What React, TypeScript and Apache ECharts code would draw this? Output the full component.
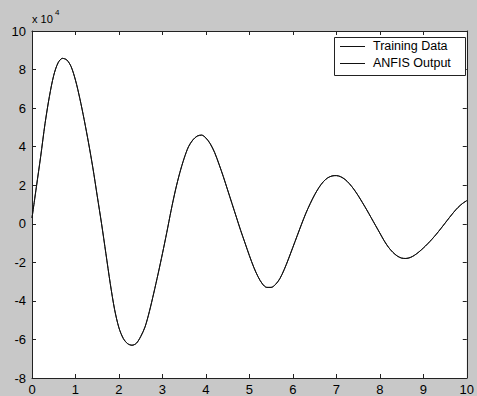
import React, { useEffect, useRef } from "react";
import * as echarts from "echarts";

const xValues = [
  0, 0.05, 0.1, 0.2, 0.3, 0.4, 0.5, 0.6, 0.7, 0.8, 0.9, 1.0, 1.1, 1.2, 1.3, 1.4, 1.5, 1.6, 1.7, 1.8, 1.9,
  2.0, 2.1, 2.2, 2.3, 2.4, 2.5, 2.6, 2.7, 2.8, 2.9, 3.0, 3.1, 3.2, 3.3, 3.4, 3.5, 3.6, 3.7, 3.8, 3.9,
  4.0, 4.1, 4.2, 4.3, 4.4, 4.5, 4.6, 4.7, 4.8, 4.9, 5.0, 5.1, 5.2, 5.3, 5.4, 5.5, 5.6, 5.7, 5.8, 5.9,
  6.0, 6.1, 6.2, 6.3, 6.4, 6.5, 6.6, 6.7, 6.8, 6.9, 7.0, 7.1, 7.2, 7.3, 7.4, 7.5, 7.6, 7.7, 7.8, 7.9,
  8.0, 8.1, 8.2, 8.3, 8.4, 8.5, 8.6, 8.7, 8.8, 8.9, 9.0, 9.1, 9.2, 9.3, 9.4, 9.5, 9.6, 9.7, 9.8, 9.9, 10.0,
];

// values in units of 10^4
const trainingData = [
  0.3, 1.1, 1.9, 3.5, 5.2, 6.6, 7.7, 8.35, 8.58, 8.5, 8.15, 7.45, 6.5, 5.4, 4.2, 2.9, 1.45, 0.0, -1.55, -3.1, -4.45,
  -5.4, -5.95, -6.22, -6.3, -6.2, -5.85, -5.35, -4.55, -3.6, -2.6, -1.55, -0.45, 0.7, 1.75, 2.65, 3.4, 4.0, 4.35, 4.55, 4.6,
  4.45, 4.15, 3.7, 3.1, 2.45, 1.75, 1.05, 0.35, -0.35, -1.0, -1.65, -2.25, -2.75, -3.12, -3.3, -3.3, -3.15, -2.85, -2.38, -1.82,
  -1.22, -0.62, -0.02, 0.55, 1.05, 1.5, 1.88, 2.18, 2.38, 2.48, 2.5, 2.44, 2.3, 2.08, 1.8, 1.47, 1.1, 0.72, 0.32, -0.08,
  -0.48, -0.88, -1.22, -1.48, -1.67, -1.78, -1.8, -1.75, -1.63, -1.46, -1.26, -1.04, -0.8, -0.54, -0.26, 0.03, 0.32, 0.6, 0.85, 1.05, 1.2,
];

const anfisOutput = [
  0.3, 1.1, 1.9, 3.5, 5.2, 6.6, 7.7, 8.35, 8.58, 8.5, 8.15, 7.45, 6.5, 5.4, 4.2, 2.9, 1.45, 0.0, -1.55, -3.1, -4.45,
  -5.4, -5.95, -6.22, -6.3, -6.2, -5.85, -5.35, -4.55, -3.6, -2.6, -1.55, -0.45, 0.7, 1.75, 2.65, 3.4, 4.0, 4.35, 4.55, 4.6,
  4.45, 4.15, 3.7, 3.1, 2.45, 1.75, 1.05, 0.35, -0.35, -1.0, -1.65, -2.25, -2.75, -3.12, -3.3, -3.3, -3.15, -2.85, -2.38, -1.82,
  -1.22, -0.62, -0.02, 0.55, 1.05, 1.5, 1.88, 2.18, 2.38, 2.48, 2.5, 2.44, 2.3, 2.08, 1.8, 1.47, 1.1, 0.72, 0.32, -0.08,
  -0.48, -0.88, -1.22, -1.48, -1.67, -1.78, -1.8, -1.75, -1.63, -1.46, -1.26, -1.04, -0.8, -0.54, -0.26, 0.03, 0.32, 0.6, 0.85, 1.05, 1.2,
];

const seriesNames = ["Training Data", "ANFIS Output"];
const xRange = { min: 0, max: 10, interval: 1 };
const yRange = { min: -8, max: 10, interval: 2 };

const FONT = "Arial, 'Liberation Sans', sans-serif";

export default function App() {
  const ref = useRef<HTMLDivElement>(null);

  useEffect(() => {
    if (!ref.current) return;
    const chart = echarts.init(ref.current, undefined, { renderer: "svg" });

    const tick = { show: true, inside: true, length: 4, lineStyle: { color: "#222", width: 1 } };
    const line = { show: true, onZero: false, lineStyle: { color: "#222", width: 1 } };

    const legendX = 334;
    const legendY = 37;
    const legendRows = [46, 63];

    chart.setOption({
      animation: false,
      backgroundColor: "#c8c8c8",
      textStyle: { fontFamily: FONT },
      grid: {
        left: 32,
        top: 31,
        width: 439,
        height: 348,
        show: true,
        backgroundColor: "#ffffff",
        borderWidth: 0,
      },
      xAxis: [
        {
          type: "value",
          position: "bottom",
          ...xRange,
          axisLine: line,
          axisTick: tick,
          splitLine: { show: false },
          axisLabel: { color: "#000", fontSize: 13, margin: 5, fontFamily: FONT },
        },
        {
          type: "value",
          position: "top",
          ...xRange,
          axisLine: line,
          axisTick: tick,
          splitLine: { show: false },
          axisLabel: { show: false },
        },
      ],
      yAxis: [
        {
          type: "value",
          position: "left",
          ...yRange,
          axisLine: line,
          axisTick: tick,
          splitLine: { show: false },
          axisLabel: { color: "#000", fontSize: 13, margin: 6, fontFamily: FONT },
        },
        {
          type: "value",
          position: "right",
          ...yRange,
          axisLine: line,
          axisTick: tick,
          splitLine: { show: false },
          axisLabel: { show: false },
        },
      ],
      graphic: [
        {
          type: "text",
          left: 32,
          top: 13,
          style: { text: "x 10", fontSize: 11, fill: "#000", fontFamily: FONT },
        },
        {
          type: "text",
          left: 55,
          top: 8,
          style: { text: "4", fontSize: 8, fill: "#000", fontFamily: FONT },
        },
        {
          type: "rect",
          shape: { x: legendX + 0.5, y: legendY + 0.5, width: 131, height: 38 },
          style: { fill: "#ffffff", stroke: "#222", lineWidth: 1 },
          z: 100,
        },
        ...seriesNames.flatMap((name, i) => [
          {
            type: "line",
            shape: { x1: 340, y1: legendRows[i] + 0.5, x2: 365, y2: legendRows[i] + 0.5 },
            style: { stroke: "#111", lineWidth: 1 },
            z: 101,
          },
          {
            type: "text",
            x: 373,
            y: legendRows[i],
            style: {
              text: name,
              fontSize: 12.5,
              fill: "#000",
              fontFamily: FONT,
              textVerticalAlign: "middle",
              verticalAlign: "middle",
            },
            z: 101,
          },
        ]),
      ],
      series: [
        {
          name: seriesNames[0],
          type: "line",
          xAxisIndex: 0,
          yAxisIndex: 0,
          symbol: "none",
          smooth: 0.3,
          lineStyle: { color: "#111", width: 1 },
          itemStyle: { color: "#111" },
          data: xValues.map((x, i) => [x, trainingData[i]]),
        },
        {
          name: seriesNames[1],
          type: "line",
          xAxisIndex: 0,
          yAxisIndex: 0,
          symbol: "none",
          smooth: 0.3,
          lineStyle: { color: "#111", width: 1 },
          itemStyle: { color: "#111" },
          data: xValues.map((x, i) => [x, anfisOutput[i]]),
        },
      ],
    });

    return () => chart.dispose();
  }, []);

  return (
    <div
      ref={ref}
      style={{ position: "fixed", left: 0, top: 0, width: 477, height: 396 }}
    />
  );
}
